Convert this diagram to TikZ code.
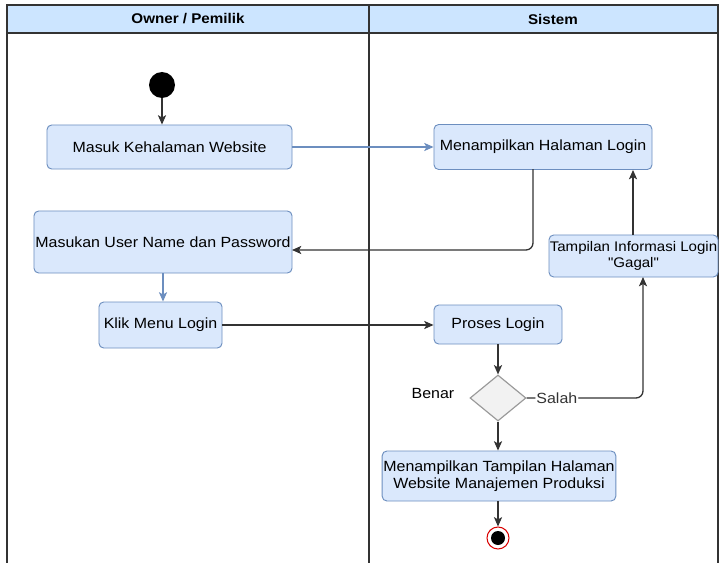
\documentclass[tikz,border=0pt]{standalone}
\usepackage{fontspec}
\setmainfont{Liberation Sans}[FakeStretch=1.08, Ligatures=TeXOff]
\usetikzlibrary{positioning,arrows.meta,shapes.geometric}
\definecolor{actfill}{HTML}{DAE8FC}
\definecolor{actdraw}{HTML}{6C8EBF}
\definecolor{lanehead}{HTML}{CCE5FF}
\definecolor{decfill}{HTML}{F2F2F2}
\definecolor{decdraw}{HTML}{9A9A9A}
\definecolor{flow}{HTML}{333333}
\newcommand{\actfont}{\fontsize{12.6}{14.5}\selectfont}

\begin{document}
\begin{tikzpicture}[x=0.03cm, y=-0.03cm,
  act/.style={rectangle, rounded corners=4pt, draw=actdraw, fill=actfill,
    font=\actfont, align=center, inner sep=1pt, line width=0.8pt},
  decision/.style={diamond, draw=decdraw, fill=decfill, line width=1pt,
    minimum width=1.68cm, minimum height=1.38cm, inner sep=0pt},
  arr/.style={-{Stealth[length=8pt, width=7pt, inset=2pt]}, flow, line width=1.1pt},
  blarr/.style={arr, actdraw},
  lane/.style={draw=flow, line width=0.9pt},
  lbl/.style={font=\actfont, inner sep=1pt}
]
\useasboundingbox (0,0) rectangle (719,563);

% Swimlanes
\draw[lane, fill=lanehead] (7,5) rectangle (718,33);
\draw[lane] (369,5) -- (369,563);
\draw[lane] (7,33) -- (7,563);
\draw[lane] (718,33) -- (718,563);
\node[font=\fontsize{12}{14}\selectfont\bfseries] (ownerhd) at (188,19) {Owner / Pemilik};
\node[font=\fontsize{12}{14}\selectfont\bfseries] (sistemhd) at (553,19) {Sistem};

% Start / end
\node[circle, fill=black, minimum size=0.78cm, inner sep=0pt] (start) at (162,85) {};
\node[circle, draw=red!85!black, fill=white, line width=0.9pt, minimum size=0.66cm, inner sep=0pt] (stop) at (498,538) {};
\node[circle, fill=black, minimum size=0.42cm, inner sep=0pt] (stopin) at (498,538) {};

% Activities
\node[act, minimum width=7.35cm, minimum height=1.32cm] (b1) at (169.5,147) {Masuk Kehalaman Website};
\node[act, minimum width=6.54cm, minimum height=1.35cm] (b2) at (543,147) {Menampilkan Halaman Login};
\node[act, minimum width=7.74cm, minimum height=1.86cm] (b3) at (163,242) {Masukan User Name dan Password};
\node[act, minimum width=3.69cm, minimum height=1.38cm] (b4) at (160.5,325) {Klik Menu Login};
\node[act, minimum width=3.84cm, minimum height=1.17cm] (b5) at (498,324.5) {Proses Login};
\node[act, minimum width=5.07cm, minimum height=1.26cm, inner sep=0pt,
  font=\fontsize{11.9}{14}\selectfont] (b6) at (633.5,256) {Tampilan Informasi Login\\"Gagal"};
\node[act, minimum width=6.9cm, minimum height=1.5cm] (b7) at (499,476) {Menampilkan Tampilan Halaman\\Website Manajemen Produksi};
\node[decision] (dec) at (498,398) {};
\node[lbl] (benar) at (433,393) {Benar};

% Connector ends
\coordinate (b2out) at (533,169);
\coordinate (b3in) at (292,250);
\coordinate (b6in) at (643,277);

% Flows
\draw[arr] (start) -- (start |- b1.north);
\draw[blarr] (b1.east) -- (b2.west);
\draw[arr, rounded corners=6pt] (b2out) |- (b3in);
\draw[blarr] (b3.south) -- (b3.south |- b4.north);
\draw[arr] (b4.east) -- (b4.east -| b5.west);
\draw[arr] (b5.south) -- (dec.north);
\draw[arr, rounded corners=6pt] (dec.east) -| node[lbl, fill=white, pos=0.13] {Salah} (b6in);
\draw[arr] (b6.north -| 633,0) -- (b2.south -| 633,0);
\draw[arr] (dec.south) -- (dec.south |- b7.north);
\draw[arr] (b7.south -| stop) -- (stop.north);

\end{tikzpicture}
\end{document}
